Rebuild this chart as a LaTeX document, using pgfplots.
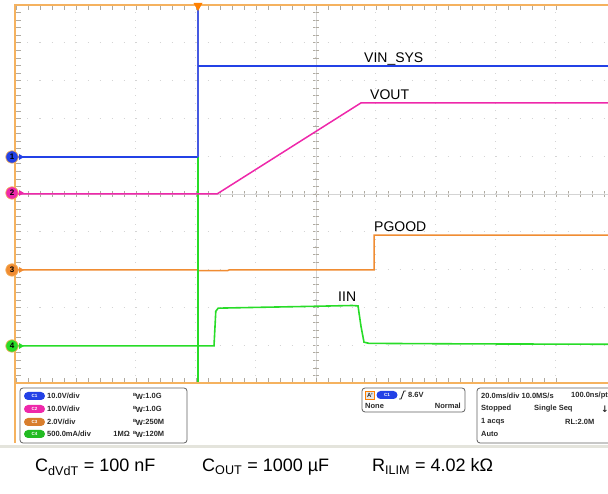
\documentclass[border=0pt]{standalone}
\usepackage{fontspec}
\setmainfont{Liberation Sans}
\newfontfamily\dejavu{DejaVu Sans}
\usepackage{pgfplots}
\pgfplotsset{compat=1.18}

\definecolor{vinblue}{RGB}{35,65,230}
\definecolor{thinblue}{RGB}{70,90,225}
\definecolor{voutpink}{RGB}{238,40,170}
\definecolor{pgorange}{RGB}{240,140,50}
\definecolor{iingreen}{RGB}{40,220,40}
\definecolor{frameorange}{RGB}{245,178,95}
\definecolor{gridgray}{RGB}{212,212,212}
\definecolor{tickgray}{RGB}{175,170,160}
\definecolor{panelgray}{RGB}{95,95,95}
\definecolor{paneltext}{RGB}{40,40,40}
\definecolor{stripgray}{RGB}{228,228,220}

% channel pill in the info panel
\newcommand{\pill}[4]{\node[fill=#1, rounded corners=4pt, minimum width=21pt,
  minimum height=8pt, inner sep=0pt, text=white,
  font=\fontsize{4.5}{5}\selectfont\bfseries] at (#3,#4) {#2};}
\newcommand{\bw}{\raisebox{2.2pt}{\fontsize{4.5}{5}\selectfont B}\kern-0.6pt\raisebox{-0.8pt}{W}}

\begin{document}
\begin{tikzpicture}[x=1pt, y=1pt,
  lbl/.style={font=\fontsize{14}{16}\selectfont, inner sep=0pt, anchor=base west}]
\path[use as bounding box] (0,0) rectangle (608,494);

% centre cross of the graticule
\draw[gridgray, line width=0.8pt] (316,111) -- (316,489);
\draw[gridgray, line width=0.8pt] (16,300) -- (608,300);
\foreach \k in {1,...,49} {
  \draw[tickgray, line width=0.6pt] (313,111+\k*7.56) -- (319,111+\k*7.56);
}
\foreach \k in {1,...,49} {
  \draw[tickgray, line width=0.6pt] (16+\k*12,297) -- (16+\k*12,303);
}

\begin{axis}[
  at={(16pt,111pt)}, anchor=south west,
  scale only axis, width=592pt, height=378pt,
  xmin=0, xmax=9.8667, ymin=0, ymax=10,
  xtick={0,...,9}, ytick={0,...,10},
  minor x tick num=4, minor y tick num=4,
  xticklabels={}, yticklabels={},
  ytick pos=left,
  tick align=inside,
  major tick length=5pt, minor tick length=5pt,
  tick style={tickgray, line width=0.6pt},
  grid=major,
  major x grid style={gridgray, line width=1pt, dash pattern=on 1pt off 6.56pt, dash phase=0.5pt},
  major y grid style={gridgray, line width=1.2pt, dash pattern=on 1pt off 11pt, dash phase=0.5pt},
  axis line style={draw=none},
  clip=false,
]
  % PGOOD
  \addplot[pgorange, line width=1.5pt] coordinates {
    (0,2.99) (3.03,2.99) (3.04,2.975) (3.53,2.975) (3.55,2.99) (5.967,2.99)
    (5.967,3.91) (9.87,3.91)
  };
  % IIN
  \addplot[iingreen, line width=1.2pt] coordinates {(3.033,0) (3.033,5.98)};
  \addplot[iingreen, line width=1.6pt] coordinates {
    (0,0.98) (3.30,0.98) (3.33,1.90) (3.37,1.98) (4.0,2.0) (5.0,2.03)
    (5.6,2.05) (5.70,2.04) (5.75,1.50) (5.80,1.08) (5.88,1.05) (6.25,1.045)
    (7.5,1.035) (9.87,1.025)
  };
  % VOUT
  \addplot[voutpink, line width=1.5pt] coordinates {
    (0,5.0) (3.35,5.0) (5.75,7.41) (9.87,7.41)
  };
  % VIN_SYS
  \addplot[vinblue, line width=1.2pt] coordinates {(0,5.98) (3.033,5.98)};
  \addplot[thinblue, line width=1.2pt] coordinates {(3.033,5.98) (3.033,9.95)};
  \addplot[vinblue, line width=2pt] coordinates {(3.033,8.39) (9.87,8.39)};

  \node[lbl] at (axis cs:5.80,8.49) {VIN\_SYS};
  \node[lbl] at (axis cs:5.90,7.49) {VOUT};
  \node[lbl] at (axis cs:5.967,4.02) {PGOOD};
  \node[lbl] at (axis cs:5.367,2.15) {IIN};
\end{axis}

% display frame
\draw[frameorange, line width=2.5pt] (15,51) -- (15,489) -- (608,489);
\draw[frameorange, line width=2.5pt] (15,111) -- (608,111);
% trigger position marker
\fill[orange] (193.5,491) -- (202.5,491) -- (198,483) -- cycle;

% channel ground markers
\foreach \yy/\cc/\nn in {337/vinblue/1, 301/voutpink/2, 224/pgorange/3, 148/iingreen/4} {
  \fill[\cc] (19,\yy+3) -- (24,\yy) -- (19,\yy-3) -- cycle;
  \node[circle, fill=\cc, draw=frameorange, line width=0.7pt, minimum size=12.5pt,
    inner sep=0pt, font=\fontsize{8}{8}\selectfont\bfseries] at (12,\yy) {\nn};
}

% info panel
\fill[stripgray] (0,46) rectangle (608,49);
\begin{scope}[every node/.style={font=\fontsize{7.5}{8}\selectfont\bfseries, text=paneltext, inner sep=0pt}]
  \draw[panelgray, line width=0.8pt, rounded corners=3pt] (20,51) rectangle (187,106);
  \draw[panelgray, line width=0.8pt, rounded corners=3pt] (362,82) rectangle (465,106);
  \draw[panelgray, line width=0.8pt, rounded corners=3pt] (477,51) rectangle (625,106);

  \pill{vinblue}{C1}{34.5}{98}
  \pill{voutpink}{C2}{34.5}{85}
  \pill{pgorange!90!black}{C3}{34.5}{72}
  \pill{iingreen!85!black}{C4}{34.5}{60}
  \node[anchor=west] at (47,98) {10.0V/div};
  \node[anchor=west] at (47,85) {10.0V/div};
  \node[anchor=west] at (47,72) {2.0V/div};
  \node[anchor=west] at (47,60) {500.0mA/div};
  \node[anchor=west] at (133,98) {\bw:1.0G};
  \node[anchor=west] at (133,85) {\bw:1.0G};
  \node[anchor=west] at (133,72) {\bw:250M};
  \node[anchor=west] at (133,60) {\bw:120M};
  \node[anchor=east] at (130,60) {1MΩ};

  \node[draw=orange, fill=gray!20, minimum width=9pt, minimum height=8pt,
    font=\fontsize{6}{6}\selectfont\bfseries] at (370,99) {A'};
  \pill{vinblue}{C1}{387}{99}
  \draw[paneltext, line width=0.9pt] (399,95) -- (401,95) -- (404,103) -- (406,103);
  \node[anchor=west] at (408,99) {8.6V};
  \node[anchor=west] at (365,88) {None};
  \node[anchor=east] at (461,88) {Normal};

  \node[anchor=west] at (481,98) {20.0ms/div 10.0MS/s};
  \node[anchor=west] at (571,98) {100.0ns/pt};
  \node[anchor=west] at (481,85) {Stopped};
  \node[anchor=west] at (534,85) {Single Seq};
  \node[anchor=west, font=\dejavu\fontsize{9}{9}\selectfont\bfseries] at (601,85) {↓};
  \node[anchor=west] at (481,72) {1 acqs};
  \node[anchor=west] at (565,72) {RL:2.0M};
  \node[anchor=west] at (481,60) {Auto};
\end{scope}

% component values
\begin{scope}[every node/.style={font=\fontsize{18}{20}\selectfont, inner sep=0pt, anchor=base west}]
  \node at (35,22) {C\textsubscript{dVdT} = 100 nF};
  \node at (202,22) {C\textsubscript{OUT} = 1000 µF};
  \node at (372,22) {R\textsubscript{ILIM} = 4.02 kΩ};
\end{scope}
\end{tikzpicture}
\end{document}
